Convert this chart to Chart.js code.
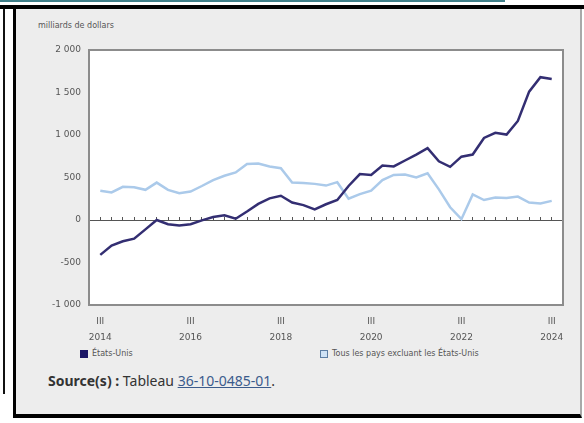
<!DOCTYPE html>
<html lang="fr">
<head>
<meta charset="utf-8">
<script src="https://cdn.jsdelivr.net/npm/chart.js@4/dist/chart.umd.min.js"></script>
<style>
  html, body { margin: 0; padding: 0; background: #fff; }
  body { width: 584px; height: 423px; position: relative; overflow: hidden; font-family: 'DejaVu Sans', sans-serif; }
  #topline { position: absolute; left: 0; top: 0; width: 505px; height: 2px; background: #3f7f89; }
  #topbar { position: absolute; left: 0; top: 5px; width: 584px; height: 4px; background: #000; }
  #leftline { position: absolute; left: 3px; top: 9px; width: 2px; height: 385px; background: #111; }
  #panel {
    position: absolute; left: 13px; top: 9px; width: 564px; height: 405px;
    border-left: 3px solid #000; border-bottom: 4px solid #000; border-right: 2px solid #a9a9a9;
    background: #ededed;
  }
  #unit { position: absolute; left: 22px; top: 12px; font-size: 8px; color: #555; }
  #chart { position: absolute; left: 0; top: 20px; }
  .leg { position: absolute; top: 340px; font-size: 8px; color: #555; display: flex; align-items: center; white-space: nowrap; }
  .leg span.box { display: inline-block; width: 8px; height: 8px; margin-right: 4px; box-sizing: border-box; }
  #source { position: absolute; left: 32px; top: 362px; font-family: 'Noto Sans', sans-serif; font-size: 14px; color: #333; }
  #source a { color: #3b5b8c; text-decoration: underline; }
</style>
</head>
<body>
<div id="topline"></div>
<div id="topbar"></div>
<div id="leftline"></div>
<div id="panel">
  <div id="unit">milliards de dollars</div>
  <canvas id="chart" width="564" height="318"></canvas>
  <div id="legend"></div>
  <div id="source"><b>Source(s) :</b> Tableau <a>36-10-0485-01</a>.</div>
</div>
<script>
// quarters, 2014 III to 2024 III
const quarters = [
  '2014-III', '2014-IV',
  '2015-I', '2015-II', '2015-III', '2015-IV',
  '2016-I', '2016-II', '2016-III', '2016-IV',
  '2017-I', '2017-II', '2017-III', '2017-IV',
  '2018-I', '2018-II', '2018-III', '2018-IV',
  '2019-I', '2019-II', '2019-III', '2019-IV',
  '2020-I', '2020-II', '2020-III', '2020-IV',
  '2021-I', '2021-II', '2021-III', '2021-IV',
  '2022-I', '2022-II', '2022-III', '2022-IV',
  '2023-I', '2023-II', '2023-III', '2023-IV',
  '2024-I', '2024-II', '2024-III'
];

// milliards de dollars
const usValues = [
  -410, -300, -250, -220, -110, 0, -50, -65, -50, -5,
  35, 55, 15, 100, 190, 255, 285, 205, 175, 125,
  185, 235, 400, 540, 530, 640, 630, 700, 770, 845,
  690, 625, 745, 770, 965, 1025, 1005, 1165, 1510, 1680,
  1660
];
const otherValues = [
  345, 325, 390, 385, 355, 440, 355, 315, 335, 400,
  470, 520, 560, 660, 665, 630, 610, 440, 435, 425,
  405, 445, 250, 305, 345, 470, 530, 535, 500, 550,
  360, 150, 10, 300, 235, 265, 260, 275, 205, 195,
  225
];

const seriesNames = ['États-Unis', 'Tous les pays excluant les États-Unis'];
const yearTicks = ['2014', '2016', '2018', '2020', '2022', '2024'];
const yMin = -1000, yMax = 2000, yStep = 500;

function fmt(v) {
  const s = String(Math.abs(v)).replace(/\B(?=(\d{3})+(?!\d))/g, ' ');
  return (v < 0 ? '-' : '') + s;
}

// white plot background and grey frame
const framePlugin = {
  id: 'frame',
  beforeDraw(chart) {
    const a = chart.chartArea, c = chart.ctx;
    c.save();
    c.fillStyle = '#ffffff';
    c.fillRect(a.left, a.top, a.right - a.left, a.bottom - a.top);
    c.restore();
  },
  afterDraw(chart) {
    const a = chart.chartArea, c = chart.ctx;
    c.save();
    c.strokeStyle = '#8c8c8c';
    c.lineWidth = 2;
    c.strokeRect(a.left, a.top, a.right - a.left, a.bottom - a.top);
    c.restore();
  }
};

const chart = new Chart(document.getElementById('chart'), {
  type: 'line',
  data: {
    datasets: [
      {
        label: seriesNames[0],
        data: usValues.map((v, i) => ({ x: i, y: v })),
        borderColor: '#332e72',
        borderWidth: 2.5,
        pointRadius: 0,
        tension: 0
      },
      {
        label: seriesNames[1],
        data: otherValues.map((v, i) => ({ x: i, y: v })),
        borderColor: '#abcaea',
        borderWidth: 2.5,
        pointRadius: 0,
        tension: 0
      }
    ]
  },
  options: {
    responsive: false,
    animation: false,
    layout: { padding: { top: 21, right: 17, left: 0, bottom: 0 } },
    plugins: {
      legend: { display: false },
      tooltip: { enabled: false }
    },
    scales: {
      x: {
        type: 'linear',
        min: -1,
        max: quarters.length,
        grid: { display: false, drawTicks: false },
        border: { display: false },
        afterFit: (s) => { s.height = 42; },
        ticks: {
          stepSize: 1,
          autoSkip: false,
          maxRotation: 0,
          padding: 9,
          color: '#555',
          font: { family: "'DejaVu Sans', sans-serif", size: 9, lineHeight: 1.75 },
          callback: function (value) {
            const q = quarters[value];
            if (!q) return '';
            const [yr, qq] = q.split('-');
            return (qq === 'III' && yearTicks.includes(yr)) ? [qq, yr] : '';
          }
        }
      },
      x2: {
        type: 'linear',
        min: -1,
        max: quarters.length,
        position: { y: 0 },
        ticks: { display: false, stepSize: 1, autoSkip: false },
        grid: {
          drawOnChartArea: false,
          drawTicks: true,
          tickLength: -4,
          tickWidth: 1,
          tickColor: (ctx) => (ctx.tick && ctx.tick.value >= 0 && ctx.tick.value < quarters.length) ? '#555' : 'rgba(0,0,0,0)'
        },
        border: { display: true, color: '#555', width: 1 }
      },
      y: {
        min: yMin,
        max: yMax,
        grid: { display: false, drawTicks: false },
        border: { display: false },
        afterFit: (s) => { s.width = 73; },
        ticks: {
          stepSize: yStep,
          padding: 8,
          color: '#555',
          font: { family: "'DejaVu Sans', sans-serif", size: 9 },
          callback: (v) => fmt(v)
        }
      }
    }
  },
  plugins: [framePlugin]
});

// legend built from the datasets
const legendColors = [
  { fill: '#1c1766', line: '#1c1766' },
  { fill: '#cfe2f5', line: '#5d7ea3' }
];
const legendLeft = [64, 304];
const legendEl = document.getElementById('legend');
chart.data.datasets.forEach((ds, i) => {
  const item = document.createElement('div');
  item.className = 'leg';
  item.style.left = legendLeft[i] + 'px';
  const box = document.createElement('span');
  box.className = 'box';
  box.style.background = legendColors[i].fill;
  box.style.border = '1px solid ' + legendColors[i].line;
  item.appendChild(box);
  item.appendChild(document.createTextNode(ds.label));
  legendEl.appendChild(item);
});
</script>
</body>
</html>
